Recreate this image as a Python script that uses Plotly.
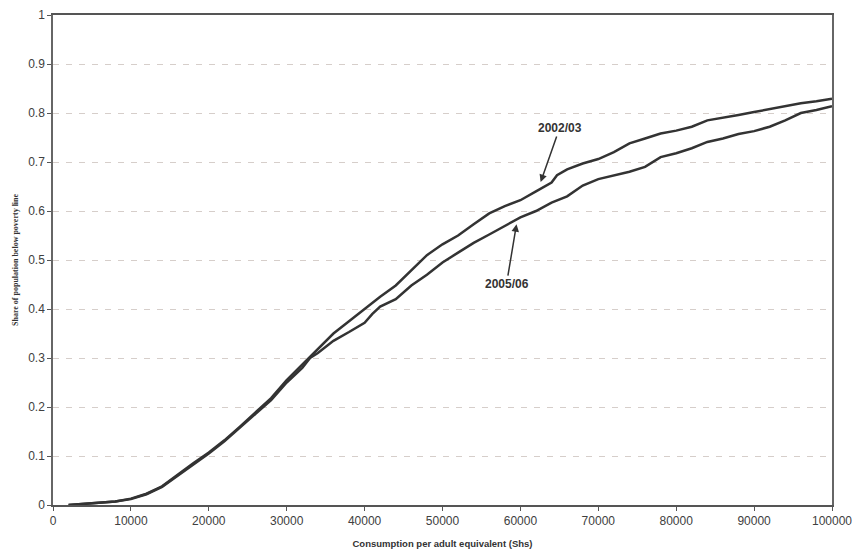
import plotly.graph_objects as go

# 2002/03 curve (consumption, share below)
x_0203 = [2000, 5000, 8000, 10000, 12000, 14000, 16000, 18000, 20000, 22000, 24000, 26000,
          28000, 30000, 32000, 34000, 36000, 38000, 40000, 42000, 44000, 46000, 48000, 50000,
          52000, 54000, 56000, 58000, 60000, 62000, 64000, 64700, 66000, 68000, 70000, 72000,
          74000, 76000, 78000, 80000, 82000, 84000, 86000, 88000, 90000, 92000, 94000, 96000,
          98000, 100000]
y_0203 = [0.0, 0.003, 0.007, 0.013, 0.023, 0.038, 0.062, 0.085, 0.107, 0.132, 0.16, 0.19,
          0.218, 0.255, 0.287, 0.32, 0.35, 0.375, 0.40, 0.425, 0.448, 0.48, 0.51, 0.532,
          0.55, 0.573, 0.595, 0.61, 0.622, 0.64, 0.658, 0.673, 0.685, 0.697, 0.706, 0.72,
          0.738, 0.748, 0.758, 0.764, 0.772, 0.785, 0.79, 0.796, 0.802, 0.808, 0.815, 0.82,
          0.824, 0.829]

# 2005/06 curve
x_0506 = [2000, 5000, 8000, 10000, 12000, 14000, 16000, 18000, 20000, 22000, 24000, 26000,
          28000, 30000, 32000, 33000, 34000, 36000, 38000, 40000, 41000, 42000, 44000, 46000,
          48000, 50000, 52000, 54000, 56000, 58000, 60000, 62000, 64000, 66000, 68000, 70000,
          72000, 74000, 76000, 78000, 80000, 82000, 84000, 86000, 88000, 90000, 92000, 94000,
          96000, 98000, 100000]
y_0506 = [0.0, 0.003, 0.007, 0.012, 0.022, 0.037, 0.06, 0.082, 0.105, 0.13, 0.157, 0.186,
          0.214, 0.25, 0.28, 0.30, 0.31, 0.335, 0.353, 0.372, 0.39, 0.405, 0.42, 0.448,
          0.47, 0.495, 0.515, 0.535, 0.552, 0.57, 0.587, 0.60, 0.617, 0.63, 0.652, 0.665,
          0.672, 0.68, 0.69, 0.71, 0.718, 0.728, 0.741, 0.748, 0.757, 0.763, 0.772, 0.785,
          0.80, 0.806, 0.814]

x_ticks = [0, 10000, 20000, 30000, 40000, 50000, 60000, 70000, 80000, 90000, 100000]
y_ticks = [0, 0.1, 0.2, 0.3, 0.4, 0.5, 0.6, 0.7, 0.8, 0.9, 1]
y_tick_labels = ["0", "0.1", "0.2", "0.3", "0.4", "0.5", "0.6", "0.7", "0.8", "0.9", "1"]

labels = ["2002/03", "2005/06"]

fig = go.Figure()
fig.add_trace(go.Scatter(x=x_0203, y=y_0203, mode="lines", name=labels[0],
                         line=dict(color="#333333", width=2.5)))
fig.add_trace(go.Scatter(x=x_0506, y=y_0506, mode="lines", name=labels[1],
                         line=dict(color="#333333", width=2.5)))

fig.add_annotation(x=62600, y=0.659, text="<b>2002/03</b>", showarrow=True,
                   ax=19, ay=-54, arrowhead=2, arrowsize=1, arrowwidth=1.5,
                   arrowcolor="#333333", font=dict(family="Arial, Liberation Sans", size=12, color="#333333"))
fig.add_annotation(x=59500, y=0.573, text="<b>2005/06</b>", showarrow=True,
                   ax=-10, ay=60, arrowhead=2, arrowsize=1, arrowwidth=1.5,
                   arrowcolor="#333333", font=dict(family="Arial, Liberation Sans", size=12, color="#333333"))

# y-axis title as rotated text
fig.add_annotation(xref="paper", yref="paper", x=0, y=0.5, xshift=-38,
                   text="<b>Share of population below poverty line</b>", showarrow=False,
                   textangle=-90, xanchor="center", yanchor="middle",
                   font=dict(family="Liberation Serif, Times New Roman", size=8, color="#333333"))

fig.update_layout(
    width=858, height=549,
    margin=dict(l=53, r=26, t=15, b=44),
    paper_bgcolor="white", plot_bgcolor="white",
    showlegend=False,
    font=dict(family="Arial, Liberation Sans", size=12, color="#404040"),
)
fig.update_xaxes(
    range=[0, 100000], tickvals=x_ticks, ticktext=[str(v) for v in x_ticks],
    showgrid=False, zeroline=False, automargin=False,
    showline=True, linecolor="#555555", linewidth=1.5, mirror=True,
    ticks="outside", ticklen=4, tickcolor="#555555",
    tickfont=dict(size=12, color="#404040"),
    title=dict(text="<b>Consumption per adult equivalent (Shs)</b>",
               font=dict(family="Arial, Liberation Sans", size=9.5, color="#333333")),
)
fig.update_yaxes(
    range=[0, 1], tickvals=y_ticks, ticktext=y_tick_labels,
    showgrid=True, gridcolor="#d6ceca", griddash="6px,7px", gridwidth=1,
    zeroline=False, automargin=False,
    showline=True, linecolor="#666666", linewidth=1.5, mirror=True,
    ticks="outside", ticklen=4, tickcolor="#555555",
    tickfont=dict(size=12, color="#404040"),
)

fig.write_html("out.html")
